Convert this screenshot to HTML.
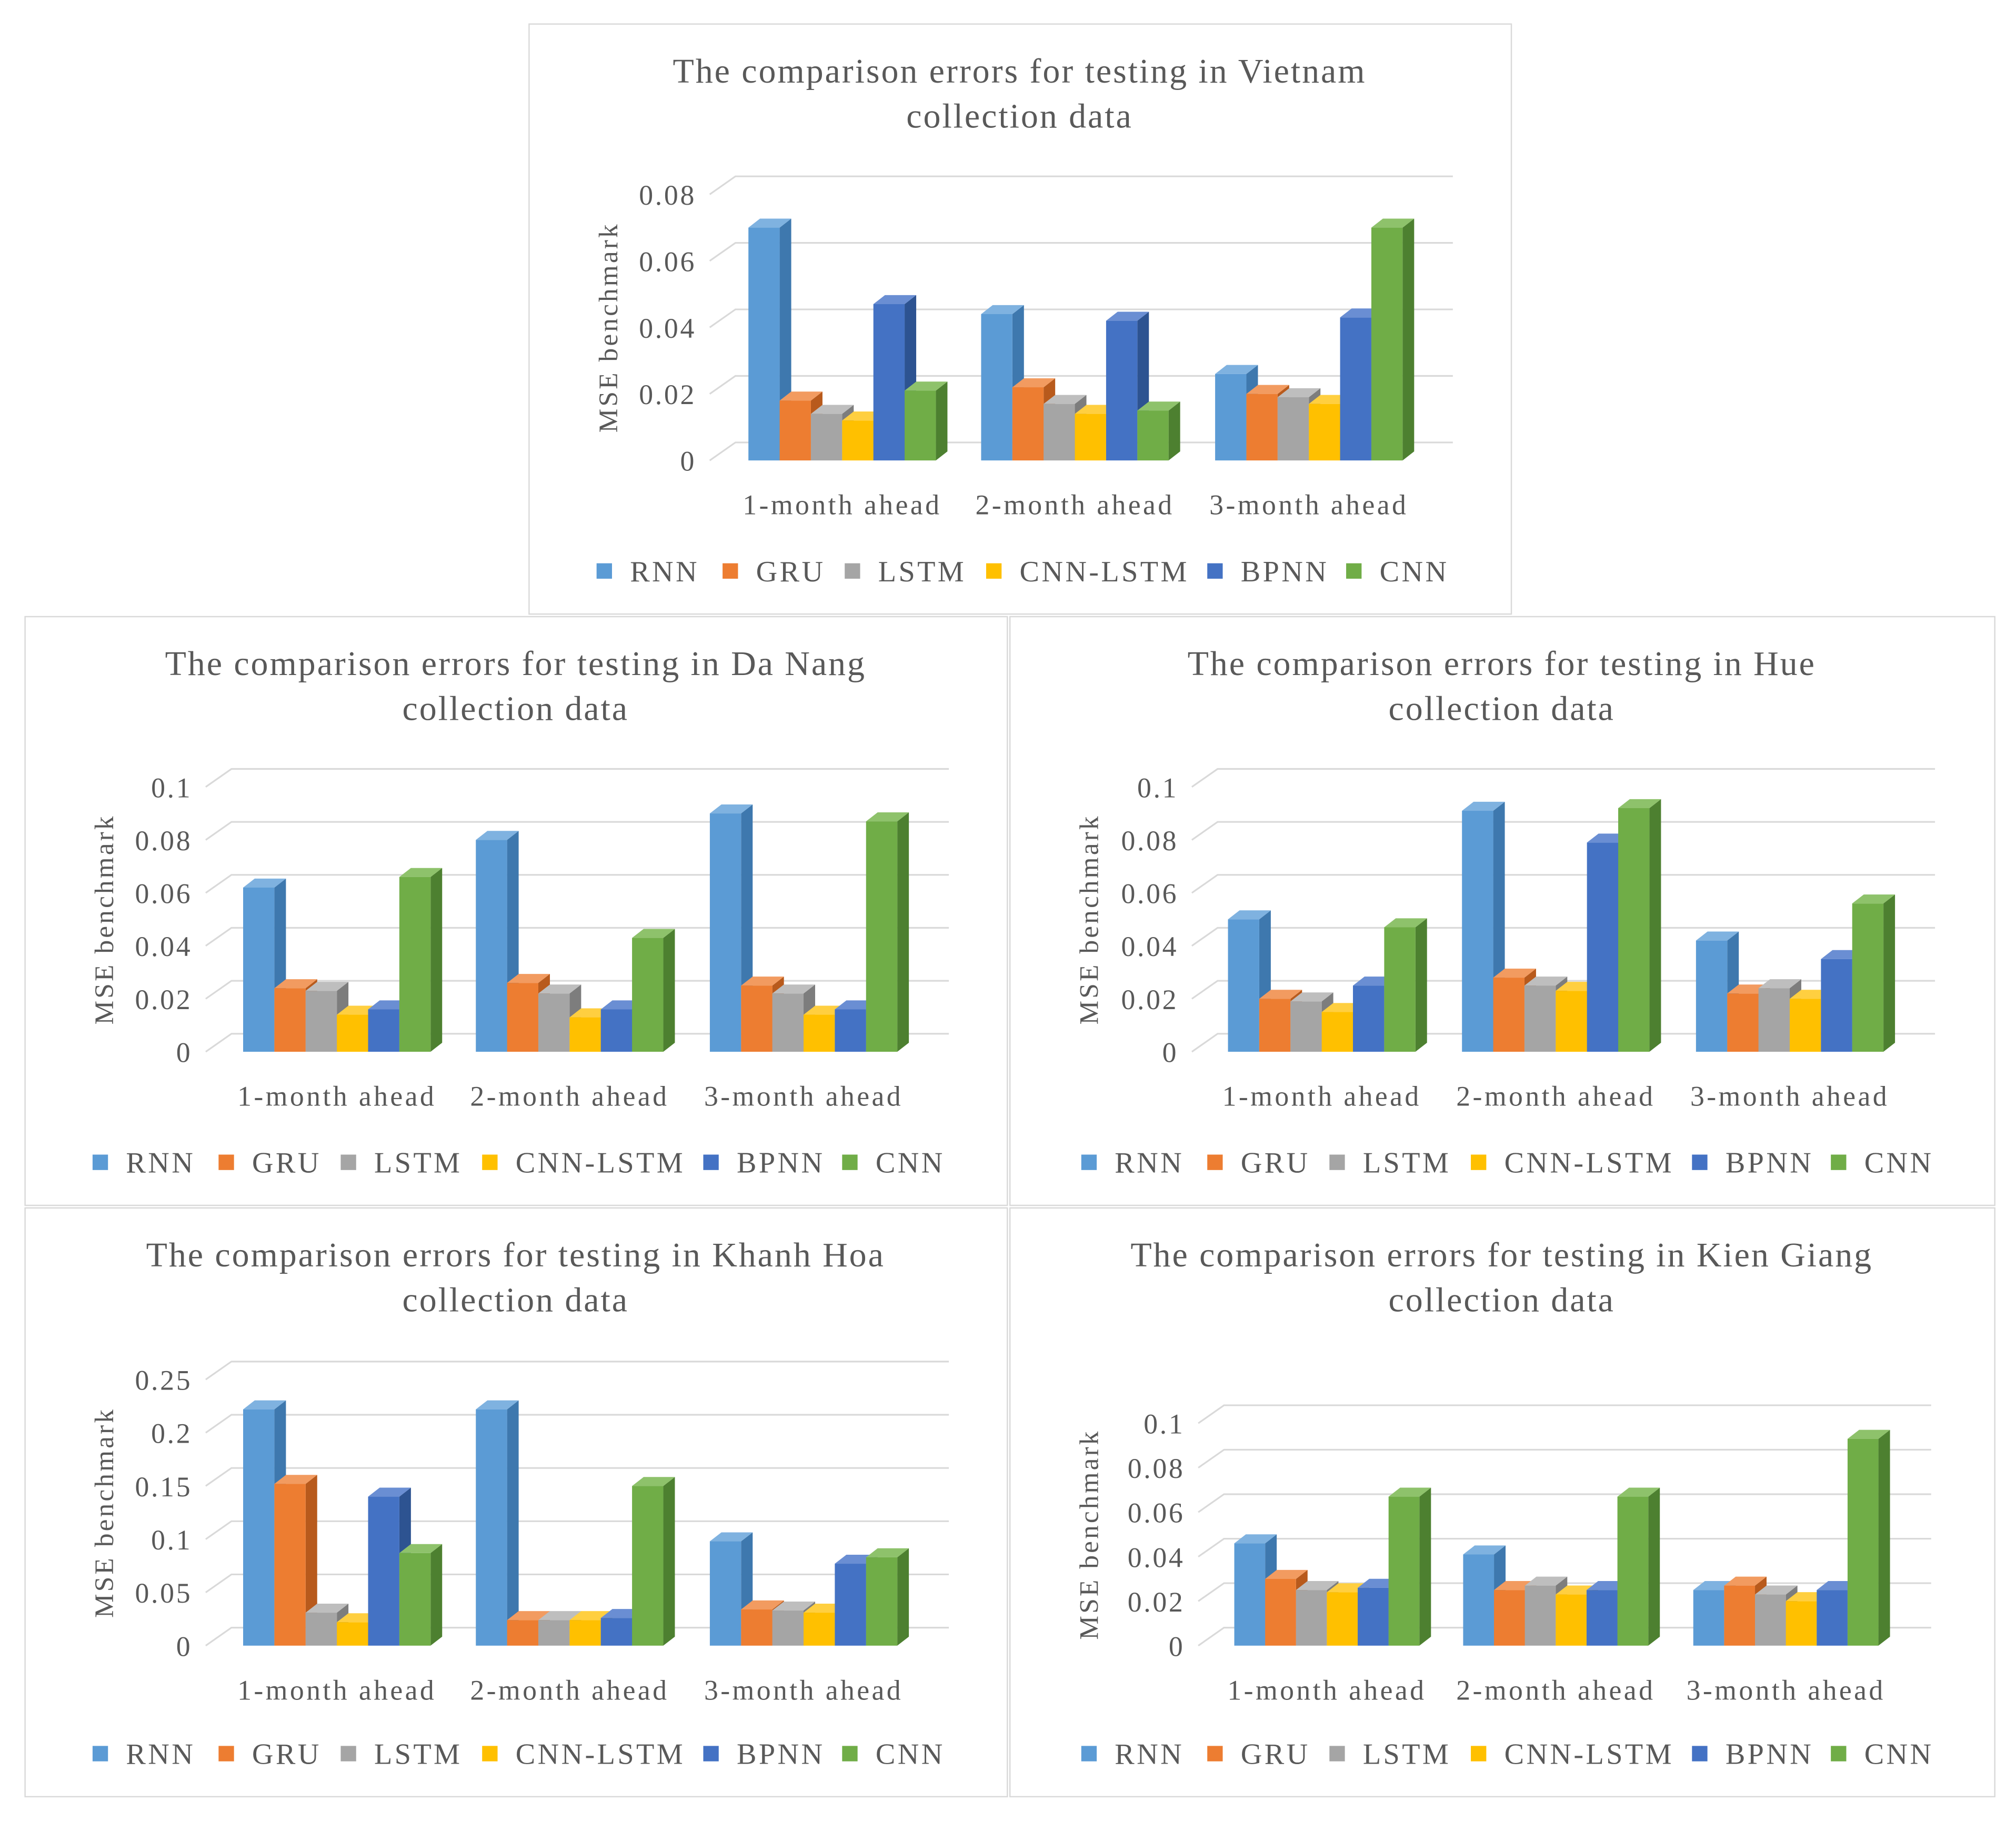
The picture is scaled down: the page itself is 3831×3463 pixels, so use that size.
<!DOCTYPE html>
<html><head><meta charset="utf-8"><style>
html,body{margin:0;padding:0;background:#fff;}
svg{display:block;}
text{font-family:"Liberation Serif",serif;fill:#595959;}
</style></head><body>
<svg id="root" width="3831" height="3463" viewBox="0 0 1568 1417" xmlns="http://www.w3.org/2000/svg"></svg>
<script>
const categories=["1-month ahead","2-month ahead","3-month ahead"];
const seriesNames=["RNN","GRU","LSTM","CNN-LSTM","BPNN","CNN"];
const colors=["#5B9BD5","#ED7D31","#A5A5A5","#FFC000","#4472C4","#70AD47"];
const sideColors=["#3E78AE","#B85A1C","#7D7D7D","#C79500","#2D5391","#4D8030"];
const topColors=["#7FB2E0","#F29B60","#BEBEBE","#FFCF40","#6A8ED3","#8EC26B"];

const vnRNN=[0.070,0.044,0.026], vnGRU=[0.018,0.022,0.020], vnLSTM=[0.014,0.017,0.019], vnCL=[0.012,0.014,0.017], vnBPNN=[0.047,0.042,0.043], vnCNN=[0.021,0.015,0.070];
const vnTicks=["0","0.02","0.04","0.06","0.08"];
const dnRNN=[0.062,0.080,0.090], dnGRU=[0.024,0.026,0.025], dnLSTM=[0.023,0.022,0.022], dnCL=[0.014,0.013,0.014], dnBPNN=[0.016,0.016,0.016], dnCNN=[0.066,0.043,0.087];
const dnTicks=["0","0.02","0.04","0.06","0.08","0.1"];
const hueRNN=[0.050,0.091,0.042], hueGRU=[0.020,0.028,0.022], hueLSTM=[0.019,0.025,0.024], hueCL=[0.015,0.023,0.020], hueBPNN=[0.025,0.079,0.035], hueCNN=[0.047,0.092,0.056];
const hueTicks=["0","0.02","0.04","0.06","0.08","0.1"];
const khRNN=[0.222,0.222,0.098], khGRU=[0.152,0.024,0.034], khLSTM=[0.031,0.024,0.033], khCL=[0.022,0.024,0.031], khBPNN=[0.140,0.026,0.077], khCNN=[0.087,0.150,0.083];
const khTicks=["0","0.05","0.1","0.15","0.2","0.25"];
const kgRNN=[0.046,0.041,0.025], kgGRU=[0.030,0.025,0.027], kgLSTM=[0.025,0.027,0.023], kgCL=[0.024,0.023,0.020], kgBPNN=[0.026,0.025,0.025], kgCNN=[0.067,0.067,0.093];
const kgTicks=["0","0.02","0.04","0.06","0.08","0.1"];

const NS="http://www.w3.org/2000/svg";
const root=document.getElementById('root');
function mk(tag,attrs,parent){const e=document.createElementNS(NS,tag);for(const k in attrs)e.setAttribute(k,attrs[k]);(parent||root).appendChild(e);return e;}

function chart(cfg){
  const g=mk('g',{});
  
  
  const bx=cfg.box[0],by=cfg.box[1],bw=cfg.box[2],bh=cfg.box[3];
  const frame=mk('rect',{x:bx+0.5,y:by+0.5,width:bw,height:bh,fill:'#fff',stroke:'#D9D9D9','stroke-width':1},g);
  
  
  const cx=bx+bw/2;
  cfg.title.forEach((t,i)=>{const e=mk('text',{x:cx,y:by+46+i*35,'text-anchor':'middle','font-size':27,'letter-spacing':1.2},g);e.textContent=t;
    
    });
  const tickMax=parseFloat(cfg.ticks[cfg.ticks.length-1]);
  const y=v=>cfg.y0-(v/tickMax)*(cfg.y0-cfg.yTop);
  const gx0=cfg.labelRight+12, gx1=cfg.gridRight;
  cfg.ticks.forEach(t=>{const v=parseFloat(t);const yy=y(v);
    const ln=mk('path',{d:`M${gx0} ${yy} L${gx0+20} ${yy-14} L${gx1} ${yy-14}`,fill:'none',stroke:'#D9D9D9','stroke-width':1.3},g);
    
    
    const tx=mk('text',{x:cfg.labelRight+1.5,y:yy+8,'text-anchor':'end','font-size':22,'letter-spacing':1.5},g);tx.textContent=t;
    
    
  });
  const yt=mk('text',{x:0,y:0,'text-anchor':'middle','font-size':21,'letter-spacing':1.7,transform:`translate(${bx+69},${(cfg.y0+cfg.yTop)/2}) rotate(-90)`},g);
  yt.textContent='MSE benchmark';
  
  
  const bw0=cfg.barW, dx=9, dy=-7;
  categories.forEach((c,ci)=>{
    const gc=cfg.centers[ci];
    const start=gc-bw0*3;
    cfg.series.forEach((arr,si)=>{
      const v=arr[ci];const x0=start+si*bw0, x1=x0+bw0, yb=y(0), yt2=y(v);
      const bg=mk('g',{},g);
      
      
      mk('polygon',{points:`${x1},${yb} ${x1+dx},${yb+dy} ${x1+dx},${yt2+dy} ${x1},${yt2}`,fill:sideColors[si]},bg);
      mk('polygon',{points:`${x0},${yt2} ${x0+dx},${yt2+dy} ${x1+dx},${yt2+dy} ${x1},${yt2}`,fill:topColors[si]},bg);
      mk('rect',{x:x0,y:yt2,width:bw0,height:yb-yt2,fill:colors[si]},bg);
    });
    const ct=mk('text',{x:gc,y:cfg.y0+42,'text-anchor':'middle','font-size':22,'letter-spacing':1.8},g);ct.textContent=c;
    
    
  });
  const offs=[59,157,252,362,534,642];
  seriesNames.forEach((n,si)=>{
    const lx=bx+offs[si]+(cfg.legShift||0), ly=cfg.legY;
    const lg=mk('g',{},g);
    
    
    mk('rect',{x:lx-6,y:ly-6,width:12,height:12,fill:colors[si]},lg);
    const t=mk('text',{x:lx+20,y:ly+8,'font-size':23,'letter-spacing':1.8},lg);t.textContent=n;
  });
}

chart({name:'chart-vietnam',box:[411,18,764,459],title:['The comparison errors for testing  in Vietnam','collection  data'],
  ticks:vnTicks,y0:358,yTop:151,labelRight:540,gridRight:1130,centers:[655,836,1018],barW:24.3,legY:444,
  series:[vnRNN,vnGRU,vnLSTM,vnCL,vnBPNN,vnCNN]});
chart({name:'chart-da-nang',box:[19,479,764,458],title:['The comparison errors for testing  in Da Nang','collection  data'],
  ticks:dnTicks,y0:818,yTop:612,labelRight:148,gridRight:738,centers:[262,443,625],barW:24.3,legY:904,
  series:[dnRNN,dnGRU,dnLSTM,dnCL,dnBPNN,dnCNN]});
chart({name:'chart-hue',box:[785,479,766,458],title:['The comparison errors for testing  in Hue','collection  data'],
  ticks:hueTicks,y0:818,yTop:612,labelRight:915,gridRight:1505,centers:[1028,1210,1392],barW:24.3,legY:904,legShift:3,
  series:[hueRNN,hueGRU,hueLSTM,hueCL,hueBPNN,hueCNN]});
chart({name:'chart-khanh-hoa',box:[19,939,764,458],title:['The comparison errors for testing  in Khanh Hoa','collection  data'],
  ticks:khTicks,y0:1280,yTop:1073,labelRight:148,gridRight:738,centers:[262,443,625],barW:24.3,legY:1364,
  series:[khRNN,khGRU,khLSTM,khCL,khBPNN,khCNN]});
chart({name:'chart-kien-giang',box:[785,939,766,458],title:['The comparison errors for testing  in Kien Giang','collection  data'],
  ticks:kgTicks,y0:1280,yTop:1107,labelRight:920,gridRight:1502,centers:[1032,1210,1389],barW:24,legY:1364,legShift:3,
  series:[kgRNN,kgGRU,kgLSTM,kgCL,kgBPNN,kgCNN]});
</script>
</body></html>
